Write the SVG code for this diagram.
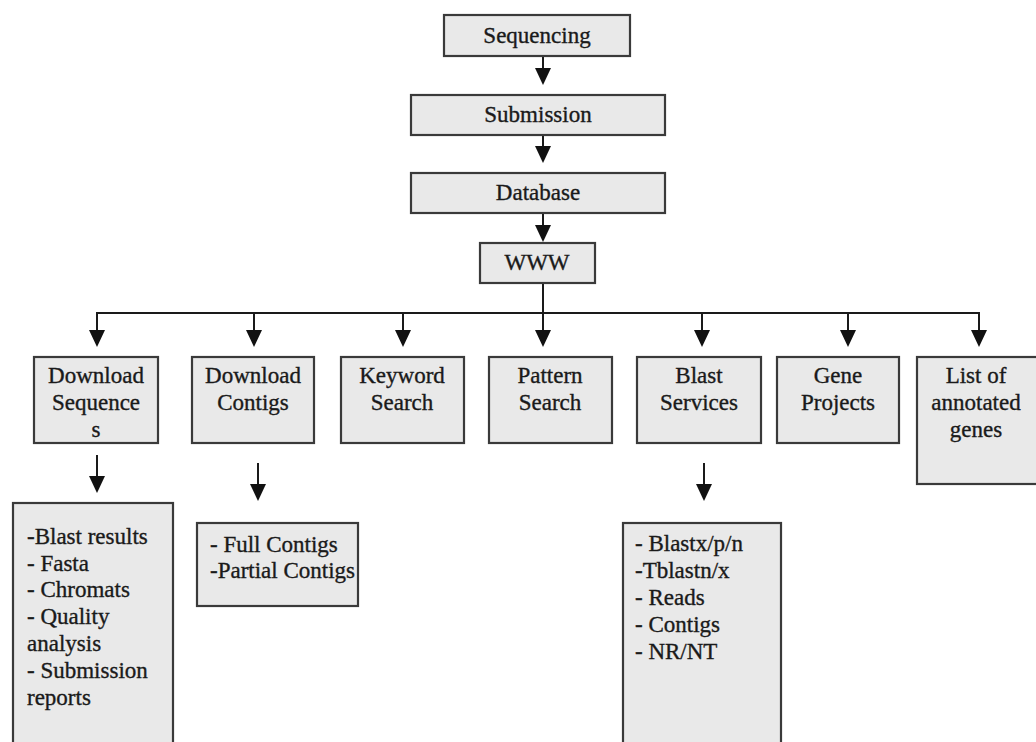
<svg xmlns="http://www.w3.org/2000/svg" width="1036" height="742" viewBox="0 0 1036 742">
<defs>
<style>
.box{fill:#e9e9e9;stroke:#3a3a3a;stroke-width:2.2}
.t{font-family:"Liberation Serif","Times New Roman",serif;font-size:23px;fill:#1a1a1a;stroke:#1a1a1a;stroke-width:0.35}
.c{text-anchor:middle}
.ln{stroke:#1a1a1a;stroke-width:2;fill:none}
.ah{fill:#111}
</style>
</defs>
<rect width="1036" height="742" fill="#fff"/>
<g id="connectors">
<line class="ln" x1="543" y1="56" x2="543" y2="68"/><path class="ah" d="M535,68 L551,68 L543,85 Z"/>
<line class="ln" x1="543" y1="135" x2="543" y2="146"/><path class="ah" d="M535,146 L551,146 L543,163 Z"/>
<line class="ln" x1="543" y1="213" x2="543" y2="225"/><path class="ah" d="M535,225 L551,225 L543,242 Z"/>
<polyline class="ln" points="543,283 543,313"/>
<polyline class="ln" points="97,330 97,313 979,313 979,330"/>
<line class="ln" x1="254" y1="313" x2="254" y2="330"/>
<line class="ln" x1="403" y1="313" x2="403" y2="330"/>
<line class="ln" x1="543" y1="313" x2="543" y2="330"/>
<line class="ln" x1="702" y1="313" x2="702" y2="330"/>
<line class="ln" x1="848" y1="313" x2="848" y2="330"/>
<path class="ah" d="M89,330 L105,330 L97,347 Z M246,330 L262,330 L254,347 Z M395,330 L411,330 L403,347 Z M535,330 L551,330 L543,347 Z M694,330 L710,330 L702,347 Z M840,330 L856,330 L848,347 Z M971,330 L987,330 L979,347 Z"/>
<line class="ln" x1="97" y1="455" x2="97" y2="476"/><path class="ah" d="M89,476 L105,476 L97,493 Z"/>
<line class="ln" x1="258" y1="463" x2="258" y2="484"/><path class="ah" d="M250,484 L266,484 L258,501 Z"/>
<line class="ln" x1="704" y1="463" x2="704" y2="484"/><path class="ah" d="M696,484 L712,484 L704,501 Z"/>
</g>
<g id="sequencing"><rect class="box" x="444" y="15" width="186" height="41"/><text class="t c" x="537" y="43">Sequencing</text></g>
<g id="submission"><rect class="box" x="411" y="95" width="254" height="40"/><text class="t c" x="538" y="122">Submission</text></g>
<g id="database"><rect class="box" x="411" y="173" width="254" height="40"/><text class="t c" x="538" y="200">Database</text></g>
<g id="www"><rect class="box" x="480" y="243" width="115" height="40"/><text class="t c" x="537" y="270">WWW</text></g>
<g id="download-sequences"><rect class="box" x="34" y="357" width="124" height="86"/><text class="t c" x="96" y="383">Download</text><text class="t c" x="96" y="410">Sequence</text><text class="t c" x="96" y="437">s</text></g>
<g id="download-contigs"><rect class="box" x="192" y="357" width="122" height="86"/><text class="t c" x="253" y="383">Download</text><text class="t c" x="253" y="410">Contigs</text></g>
<g id="keyword-search"><rect class="box" x="341" y="357" width="123" height="86"/><text class="t c" x="402" y="383">Keyword</text><text class="t c" x="402" y="410">Search</text></g>
<g id="pattern-search"><rect class="box" x="489" y="357" width="123" height="86"/><text class="t c" x="550" y="383">Pattern</text><text class="t c" x="550" y="410">Search</text></g>
<g id="blast-services"><rect class="box" x="637" y="357" width="124" height="86"/><text class="t c" x="699" y="383">Blast</text><text class="t c" x="699" y="410">Services</text></g>
<g id="gene-projects"><rect class="box" x="777" y="357" width="122" height="86"/><text class="t c" x="838" y="383">Gene</text><text class="t c" x="838" y="410">Projects</text></g>
<g id="annotated-genes"><rect class="box" x="917" y="357" width="130" height="127"/><text class="t c" x="976" y="383">List of</text><text class="t c" x="976" y="410">annotated</text><text class="t c" x="976" y="437">genes</text></g>
<g id="seq-details"><rect class="box" x="13" y="503" width="160" height="260"/>
<text class="t" x="27" y="544">-Blast results</text>
<text class="t" x="27" y="571">- Fasta</text>
<text class="t" x="27" y="597">- Chromats</text>
<text class="t" x="27" y="624">- Quality</text>
<text class="t" x="27" y="651">analysis</text>
<text class="t" x="27" y="678">- Submission</text>
<text class="t" x="27" y="705">reports</text></g>
<g id="contig-details"><rect class="box" x="197" y="523" width="161" height="83"/>
<text class="t" x="210" y="552">- Full Contigs</text>
<text class="t" x="210" y="578">-Partial Contigs</text></g>
<g id="blast-details"><rect class="box" x="623" y="523" width="158" height="240"/>
<text class="t" x="635" y="551">- Blastx/p/n</text>
<text class="t" x="635" y="578">-Tblastn/x</text>
<text class="t" x="635" y="605">- Reads</text>
<text class="t" x="635" y="632">- Contigs</text>
<text class="t" x="635" y="659">- NR/NT</text></g>
</svg>
